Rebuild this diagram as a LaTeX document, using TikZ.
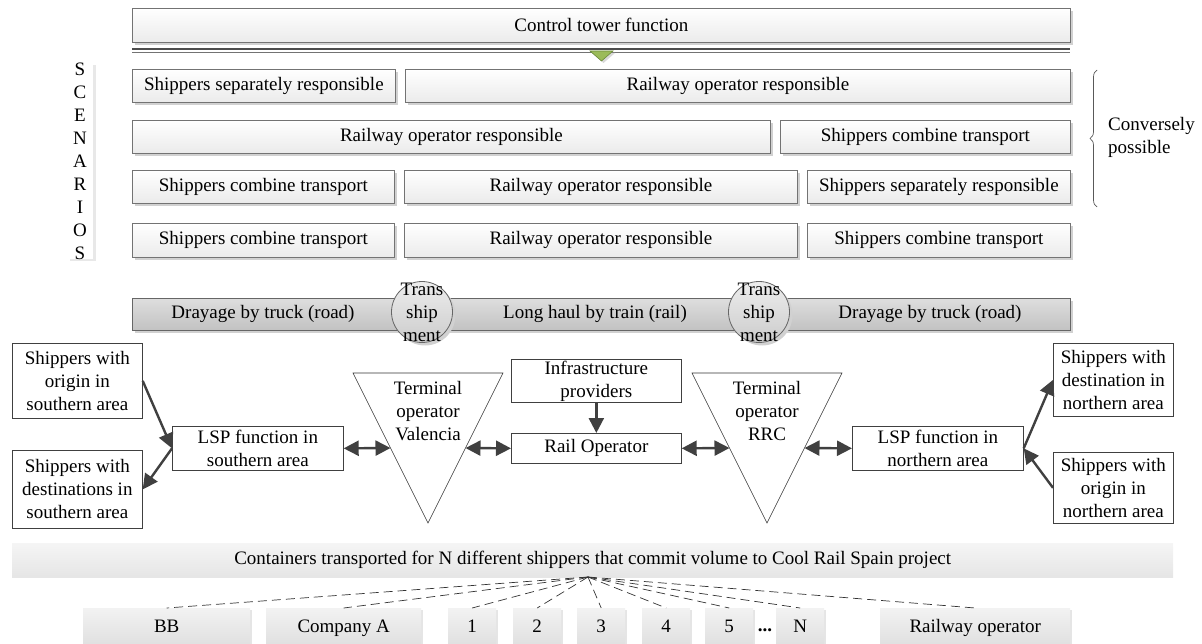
\documentclass[tikz,border=0pt]{standalone}
\usepackage{fontspec}
\setmainfont{Liberation Serif}
\usetikzlibrary{shadows,arrows.meta,decorations.pathreplacing,calc}
\definecolor{arrc}{HTML}{404040}
\definecolor{tgreen}{HTML}{9BBB59}
\definecolor{tgreenD}{HTML}{6B8A3A}
\begin{document}
\begin{tikzpicture}[x=1pt,y=-1pt,font=\fontsize{19pt}{23pt}\selectfont,
  shad/.style={drop shadow={shadow xshift=3pt,shadow yshift=-3pt,fill=black!18,opacity=1}},
  sbox/.style={draw=black!55, line width=0.8pt, top color=white, bottom color=black!8, inner sep=0pt, anchor=north west, shad},
  tbar/.style={draw=black!60, line width=0.8pt, top color=black!13, bottom color=black!24, inner sep=0pt, anchor=north west, shad},
  tcirc/.style={circle, draw=black!60, line width=0.8pt, top color=black!7, bottom color=black!20, inner sep=0pt, minimum size=61pt, shad},
  fbox/.style={draw=black!75, line width=0.7pt, fill=white, align=center, inner sep=0pt, anchor=north west},
  tri/.style={draw=black!80, line width=0.6pt, fill=white},
  tip/.tip={Triangle[length=15pt,width=15pt]},
  arr/.style={draw=arrc, line width=2.4pt, -tip},
  darr/.style={draw=arrc, line width=2.4pt, tip-tip},
  cbar/.style={top color=black!4, bottom color=black!10, inner sep=0pt, anchor=north west},
  bbox/.style={top color=black!5, bottom color=black!13, inner sep=0pt, anchor=north west, text height=13pt, text depth=4pt, drop shadow={shadow xshift=2pt,shadow yshift=-2pt,fill=black!10,opacity=1}},
  fan/.style={dash pattern=on 9pt off 5pt, line width=0.7pt, draw=black!80}
]
\useasboundingbox (0,0) rectangle (1202,644);

% control tower
\node[sbox, minimum width=938pt, minimum height=34pt] (ct) at (132,8) {Control tower function};
\draw[black!70, line width=1.1pt] (132,49) -- (1070,49);
\draw[black!55, line width=0.7pt] (132,52) -- (1070,52);
\draw[fill=tgreen, draw=tgreenD, line width=0.6pt, drop shadow={shadow xshift=2pt,shadow yshift=-2pt,fill=black!15,opacity=1}] (590,51) -- (613,51) -- (601.5,61) -- cycle;

% scenarios label
\node[fill=white, inner sep=0pt, minimum width=26pt, minimum height=196pt, align=center,
      drop shadow={shadow xshift=3pt,shadow yshift=-2pt,fill=black!9,opacity=1}] (scen) at (80,161)
      {S\\C\\E\\N\\A\\R\\I\\O\\S};

% scenario rows
\node[sbox, minimum width=263pt, minimum height=33pt] (s11) at (132,69) {Shippers separately responsible};
\node[sbox, minimum width=665pt, minimum height=33pt] (s12) at (405,69) {Railway operator responsible};
\node[sbox, minimum width=638pt, minimum height=33pt] (s21) at (132,120) {Railway operator responsible};
\node[sbox, minimum width=290pt, minimum height=33pt] (s22) at (780,120) {Shippers combine transport};
\node[sbox, minimum width=262pt, minimum height=33pt] (s31) at (132,170) {Shippers combine transport};
\node[sbox, minimum width=393pt, minimum height=33pt] (s32) at (404,170) {Railway operator responsible};
\node[sbox, minimum width=263pt, minimum height=33pt] (s33) at (807,170) {Shippers separately responsible};
\node[sbox, minimum width=262pt, minimum height=34pt] (s41) at (132,223) {Shippers combine transport};
\node[sbox, minimum width=393pt, minimum height=34pt] (s42) at (404,223) {Railway operator responsible};
\node[sbox, minimum width=263pt, minimum height=34pt] (s43) at (807,223) {Shippers combine transport};

% brace
\draw[black!65, line width=0.7pt, decorate, decoration={brace, amplitude=7pt}] (1097,207) -- (1097,70);
\node[align=left, anchor=west, inner sep=0pt] (conv) at (1108,137) {Conversely\\possible};

% transport bar
\node[tbar, minimum width=938pt, minimum height=32pt] (bar) at (132,298) {};
\node (d1) at (263,314) {Drayage by truck (road)};
\node (lh) at (595,314) {Long haul by train (rail)};
\node (d2) at (930,314) {Drayage by truck (road)};
\node[tcirc] (c1) at (422,312) {};
\node[align=center, inner sep=0pt] (c1t) at (c1) {Trans\\ship\\ment};
\node[tcirc] (c2) at (759,312) {};
\node[align=center, inner sep=0pt] (c2t) at (c2) {Trans\\ship\\ment};

% triangles
\draw[tri] (353,373) -- (503,373) -- (428,523) -- cycle;
\draw[tri] (692,373) -- (842,373) -- (767,523) -- cycle;
\coordinate (tvL) at (390.5,448);
\coordinate (tvR) at (465.5,448);
\coordinate (trL) at (729.5,448);
\coordinate (trR) at (804.5,448);
\node[align=center, inner sep=0pt] (tv) at (428,411) {Terminal\\operator\\Valencia};
\node[align=center, inner sep=0pt] (tr) at (767,411) {Terminal\\operator\\RRC};

% flow boxes
\node[fbox, minimum width=130pt, minimum height=75pt] (sO) at (12,343) {Shippers with\\origin in\\southern area};
\node[fbox, minimum width=130pt, minimum height=78pt] (sD) at (12,450) {Shippers with\\destinations in\\southern area};
\node[fbox, minimum width=171pt, minimum height=44pt] (lspS) at (172,426) {LSP function in\\southern area};
\node[fbox, minimum width=170pt, minimum height=43pt] (infra) at (511,359) {Infrastructure\\providers};
\node[fbox, minimum width=170pt, minimum height=30pt] (rail) at (511,433) {Rail Operator};
\node[fbox, minimum width=171pt, minimum height=44pt] (lspN) at (852,426) {LSP function in\\northern area};
\node[fbox, minimum width=120pt, minimum height=73pt] (nD) at (1053,343) {Shippers with\\destination in\\northern area};
\node[fbox, minimum width=120pt, minimum height=71pt] (nO) at (1053,452) {Shippers with\\origin in\\northern area};

% arrows
\draw[arr] (sO.east) -- (lspS.west);
\draw[arr] (lspS.west) -- (sD.east);
\draw[darr] (lspS.east) -- (tvL);
\draw[darr] (tvR) -- (rail.west);
\draw[darr] (rail.east) -- (trL);
\draw[darr] (trR) -- (lspN.west);
\draw[arr] (infra.south) -- (rail.north);
\draw[arr] (lspN.east) -- (nD.west);
\draw[arr] (nO.west) -- (lspN.east);

% containers
\node[cbar, minimum width=1161pt, minimum height=34pt] (cont) at (12,543) {Containers transported for N different shippers that commit volume to Cool Rail Spain project};
\coordinate (apex) at (588,577);

\node[bbox, minimum width=167pt, minimum height=40pt] (bb) at (83,608) {BB};
\node[bbox, minimum width=155pt, minimum height=40pt] (ca) at (266,608) {Company A};
\node[bbox, minimum width=48pt, minimum height=40pt] (n1) at (448,608) {1};
\node[bbox, minimum width=48pt, minimum height=40pt] (n2) at (513,608) {2};
\node[bbox, minimum width=48pt, minimum height=40pt] (n3) at (577,608) {3};
\node[bbox, minimum width=48pt, minimum height=40pt] (n4) at (642,608) {4};
\node[bbox, minimum width=48pt, minimum height=40pt] (n5) at (705,608) {5};
\node[inner sep=0pt] (dots) at (765,630) {\textbf{...}};
\node[bbox, minimum width=48pt, minimum height=40pt] (nN) at (776,608) {N};
\node[bbox, minimum width=190pt, minimum height=40pt] (ro) at (880,608) {Railway operator};

\foreach \t in {bb,ca,n1,n2,n3,n4,n5,nN,ro}
  \draw[fan] (apex) -- (\t.north);
\end{tikzpicture}
\end{document}
